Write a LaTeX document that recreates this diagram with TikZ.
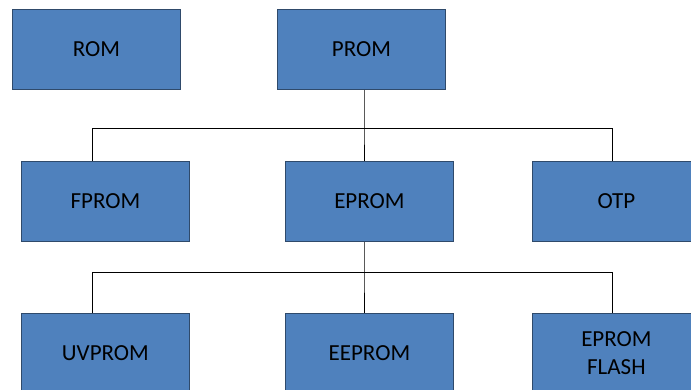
\documentclass[tikz,border=0pt]{standalone}
\usepackage{fontspec}
\setmainfont{Carlito}
\definecolor{boxblue}{HTML}{4F81BD}
\definecolor{boxedge}{HTML}{2F4A6B}
\begin{document}
\begin{tikzpicture}[x=1pt,y=-1pt,
  memboxstyle/.style={draw=boxedge,line width=0.8pt,fill=boxblue,minimum width=168pt,minimum height=80pt,
    anchor=north west,inner sep=0pt,align=center,font=\fontsize{23pt}{28pt}\selectfont,text=black},
  connstyle/.style={draw=black,line width=1pt}]
\clip (0,0) rectangle (691,390);
\fill[white] (0,0) rectangle (691,390);
\node[memboxstyle] (rom) at (12,9) {ROM};
\node[memboxstyle] (prom) at (277,9) {PROM};
\node[memboxstyle] (fprom) at (21,161) {FPROM};
\node[memboxstyle] (eprom) at (285,161) {EPROM};
\node[memboxstyle] (otp) at (532,161) {OTP};
\node[memboxstyle] (uvprom) at (21,313) {UVPROM};
\node[memboxstyle] (eeprom) at (285,313) {EEPROM};
\node[memboxstyle] (flash) at (532,313) {EPROM\\FLASH};
\coordinate (j1) at (364,129);
\coordinate (a1) at (92,129);
\coordinate (a3) at (612,129);
\coordinate (j2) at (364,273);
\coordinate (b1) at (92,273);
\coordinate (b3) at (612,273);
\draw[connstyle] (j1 |- prom.south) -- (j1) -- (j1 |- eprom.north);
\draw[connstyle] (a1 |- fprom.north) -- (a1) -- (a3) -- (a3 |- otp.north);
\draw[connstyle] (j2 |- eprom.south) -- (j2) -- (j2 |- eeprom.north);
\draw[connstyle] (b1 |- uvprom.north) -- (b1) -- (b3) -- (b3 |- flash.north);
\end{tikzpicture}
\end{document}
